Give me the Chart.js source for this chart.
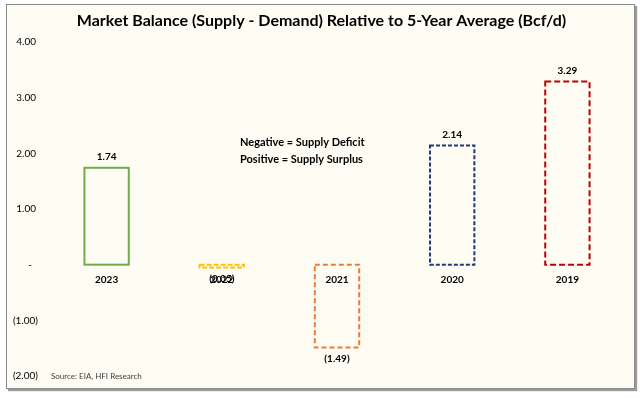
<!DOCTYPE html>
<html>
<head>
<meta charset="utf-8">
<script src="https://cdn.jsdelivr.net/npm/chart.js@4/dist/chart.umd.min.js"></script>
<style>
  body { margin: 0; background: #fff; }
  #frame {
    position: absolute; left: 6px; top: 4px; width: 627px; height: 383px;
    border: 1px solid #8a8a8a; box-shadow: 2px 2px 1px #9a9a9a;
    background: #fffcf3;
  }
  canvas { display: block; }
</style>
</head>
<body>
<div id="frame"><canvas id="chart" width="627" height="383"></canvas></div>
<script>
// Data
const years = ['2023', '2022', '2021', '2020', '2019'];
const balance = [1.74, -0.05, -1.49, 2.14, 3.29];
const barColors = ['#70ad47', '#ffc000', '#ed7d31', '#1f3a7a', '#c00000'];
const barDashes = [[], [5, 2], [5, 3], [4, 2], [6, 3]];
const yTicks = [-2, -1, 0, 1, 2, 3, 4];

const FONT = 'Lato, "Open Sans", sans-serif';

function fmt(v) {
    if (v === 0) return '-';
    const s = Math.abs(v).toFixed(2);
    return v < 0 ? '(' + s + ')' : s;
}

// Outline bars with dash patterns, values as labels, y tick labels, title and notes
const overlay = {
    id: 'overlay',
    afterDatasetsDraw(chart) {
        const ctx = chart.ctx;
        const meta = chart.getDatasetMeta(0);
        const area = chart.chartArea;
        const yScale = chart.scales.y;
        ctx.save();
        meta.data.forEach((bar, i) => {
            const left = bar.x - bar.width / 2;
            const top = Math.min(bar.y, bar.base);
            const h = Math.abs(bar.base - bar.y);
            ctx.strokeStyle = barColors[i];
            ctx.lineWidth = 2;
            ctx.setLineDash(barDashes[i]);
            ctx.strokeRect(left, top, bar.width, h);

            ctx.setLineDash([]);
            ctx.fillStyle = '#000';
            ctx.font = 'bold 10px ' + FONT;
            ctx.textAlign = 'center';
            ctx.textBaseline = 'middle';
            const v = balance[i];
            const ly = v >= 0 ? bar.y - 11 : bar.y + 11;
            ctx.fillText(fmt(v), bar.x, ly);
        });

        // y tick labels, accounting style
        ctx.font = '10px ' + FONT;
        yTicks.forEach(v => {
            const y = yScale.getPixelForValue(v);
            if (v === 0) {
                ctx.textAlign = 'center';
                ctx.fillText('-', 23, y);
            } else {
                ctx.textAlign = 'right';
                ctx.fillText(fmt(v), v < 0 ? 31 : 29, y);
            }
        });

        // title
        ctx.font = 'bold 16px ' + FONT;
        ctx.textAlign = 'center';
        ctx.fillText('Market Balance (Supply - Demand) Relative to 5-Year Average (Bcf/d)', chart.width / 2 + 1, 16);

        // note
        ctx.font = 'bold 11px ' + FONT;
        ctx.textAlign = 'left';
        ctx.fillText('Negative = Supply Deficit', area.left + 191, 137);
        ctx.fillText('Positive = Supply Surplus', area.left + 191, 154);

        // source
        ctx.font = '8px ' + FONT;
        ctx.fillStyle = '#404040';
        ctx.fillText('Source: EIA, HFI Research', area.left + 2, area.bottom);
        ctx.restore();
    }
};

const ctx = document.getElementById('chart').getContext('2d');
const chart = new Chart(ctx, {
    type: 'bar',
    data: {
        labels: years,
        datasets: [{
            data: balance,
            backgroundColor: 'rgba(0,0,0,0)',
            borderWidth: 0,
            barPercentage: 0.385,
            categoryPercentage: 1
        }]
    },
    options: {
        responsive: false,
        animation: false,
        layout: { padding: { top: 37, bottom: 12, right: 9, left: 0 } },
        plugins: {
            legend: { display: false },
            tooltip: { enabled: false }
        },
        scales: {
            x: {
                position: { y: 0 },
                grid: { display: false, drawTicks: false },
                border: { display: false },
                ticks: {
                    padding: 9,
                    color: '#000',
                    font: { family: FONT, size: 10, weight: 'bold' }
                }
            },
            y: {
                min: -2,
                max: 4,
                afterBuildTicks: function(scale) {
                    scale.ticks = yTicks.map(v => ({ value: v }));
                },
                afterFit: function(scale) { scale.width = 42; },
                grid: { display: false, drawTicks: false },
                border: { display: false },
                ticks: { display: false }
            }
        }
    },
    plugins: [overlay]
});
</script>
</body>
</html>
